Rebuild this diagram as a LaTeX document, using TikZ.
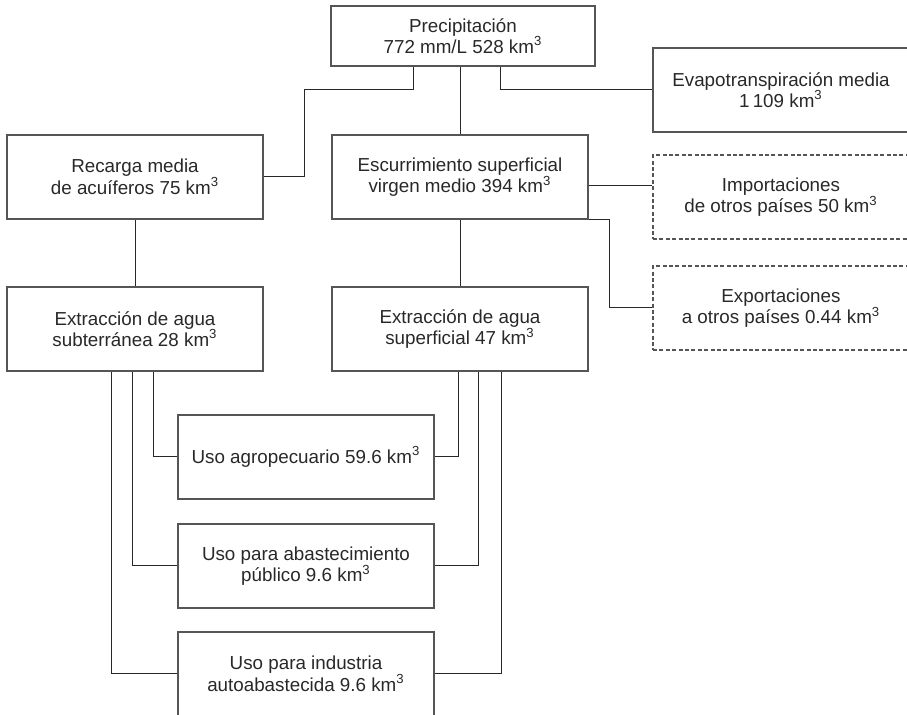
\documentclass[tikz,border=0pt]{standalone}
\usepackage{fontspec}
\setmainfont{Liberation Sans}
\definecolor{boxgray}{RGB}{85,85,85}
\definecolor{textgray}{RGB}{40,40,40}

\begin{document}
\begin{tikzpicture}[x=0.5pt, y=-0.5pt,
		box/.style={draw=boxgray, line width=0.65pt, minimum width=128pt,
			minimum height=42pt, align=center, inner sep=0pt, text=textgray,
			font=\fontsize{9.4}{10.8}\selectfont},
		dashbox/.style={box, dash pattern=on 2pt off 1.2pt},
		link/.style={draw=textgray, line width=0.5pt}
	]
		\clip (0,0) rectangle (907,715);

		\node[box, minimum width=132pt, minimum height=30pt] (prec) at (463,36) {Precipitación\\772 mm/L 528 km\textsuperscript{3}};
		\node[box] (evap) at (781,90) {Evapotranspiración media\\1\,109 km\textsuperscript{3}};
		\node[box] (rec) at (135,177) {Recarga media\\de acuíferos 75 km\textsuperscript{3}};
		\node[box] (esc) at (460,177) {Escurrimiento superficial\\virgen medio 394 km\textsuperscript{3}};
		\node[dashbox] (imp) at (781,197) {Importaciones\\de otros países 50 km\textsuperscript{3}};
		\node[dashbox] (exp) at (781,308) {Exportaciones\\a otros países 0.44 km\textsuperscript{3}};
		\node[box] (extsub) at (135,329) {Extracción de agua\\subterránea 28 km\textsuperscript{3}};
		\node[box] (extsup) at (460,329) {Extracción de agua\\superficial 47 km\textsuperscript{3}};
		\node[box] (agro) at (306,457) {Uso agropecuario 59.6 km\textsuperscript{3}};
		\node[box] (pub) at (306,566) {Uso para abastecimiento\\público 9.6 km\textsuperscript{3}};
		\node[box] (ind) at (306,674) {Uso para industria\\autoabastecida 9.6 km\textsuperscript{3}};

		\draw[link] ([xshift=-25pt]prec.south) -- ++(0,23) -| ([xshift=20.5pt]rec.east) -- (rec.east);
		\draw[link] ([xshift=18.5pt]prec.south) |- (evap.west);
		\draw[link] (esc.north |- prec.south) -- (esc.north);
		\draw[link] ([yshift=-4.5pt]esc.east) -- ([yshift=5.5pt]imp.west);
		\draw[link] (esc.south east) -- ++(21,0) |- (exp.west);
		\draw[link] (rec.south) -- (extsub.north);
		\draw[link] (esc.south) -- (extsup.north);

		\draw[link] ([xshift=9pt]extsub.south) |- (agro.west);
		\draw[link] ([xshift=-1.5pt]extsub.south) |- (pub.west);
		\draw[link] ([xshift=-12pt]extsub.south) |- (ind.west);
		\draw[link] ([xshift=-1pt]extsup.south) |- (agro.east);
		\draw[link] ([xshift=9pt]extsup.south) |- (pub.east);
		\draw[link] ([xshift=20.5pt]extsup.south) |- (ind.east);
	\end{tikzpicture}
\end{document}
